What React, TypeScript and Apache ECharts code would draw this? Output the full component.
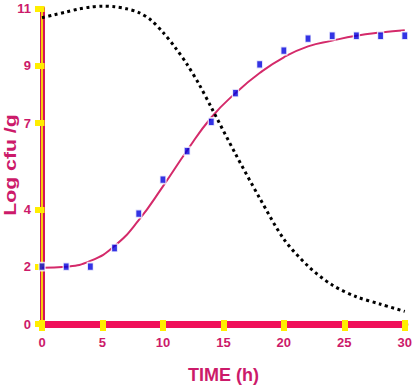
import React, { useEffect, useRef } from "react";
import * as echarts from "echarts";

const timePoints = [0, 2, 4, 6, 8, 10, 12, 14, 16, 18, 20, 22, 24, 26, 28, 30];
const observed = [2.0, 2.0, 2.0, 2.65, 3.85, 5.03, 6.03, 7.05, 8.05, 9.05, 9.53, 9.95, 10.05, 10.05, 10.05, 10.05];
const fittedX = [0, 2, 4, 6, 8, 10, 12, 14, 16, 18, 20, 22, 24, 26, 28, 30];
const fitted = [1.96, 2.0, 2.2, 2.72, 3.62, 4.8, 6.05, 7.2, 8.05, 8.75, 9.3, 9.68, 9.88, 10.05, 10.16, 10.24];
const dottedX = [0, 1, 2, 3, 4, 5, 6, 7, 8, 9, 10, 11, 12, 13, 14, 16, 18, 20, 22, 24, 26, 28, 30];
const dotted = [10.68, 10.78, 10.88, 10.98, 11.05, 11.08, 11.06, 10.99, 10.86, 10.6, 10.17, 9.65, 9.05, 8.35, 7.55, 5.93, 4.39, 2.96, 2.02, 1.36, 0.95, 0.69, 0.44];
const yTicks = [0, 2, 4, 7, 9, 11];
const xTicks = [0, 5, 10, 15, 20, 25, 30];

const MAGENTA = "#cc1a6a";
const YELLOW = "#ffee00";

export default function App() {
  const ref = useRef<HTMLDivElement>(null);
  useEffect(() => {
    if (!ref.current) return;
    const chart = echarts.init(ref.current, null, { renderer: "svg" });
    const labelStyle = { color: MAGENTA, fontWeight: "bold", fontSize: 13, fontFamily: "Liberation Sans, Arial, sans-serif" };
    chart.setOption({
      animation: false,
      backgroundColor: "#ffffff",
      grid: { left: 42, right: 9.5, top: 8.5, bottom: 61.5, containLabel: false },
      xAxis: [
        {
          type: "value", min: 0, max: 30, interval: 5,
          axisLine: { show: true, onZero: false, lineStyle: { color: "#f0105a", width: 7 } },
          axisTick: { show: true, length: 7, customValues: xTicks, lineStyle: { color: YELLOW, width: 6 } },
          axisLabel: { ...labelStyle, margin: 12, customValues: xTicks },
          splitLine: { show: false },
          name: "TIME (h)", nameLocation: "middle", nameGap: 42,
          nameTextStyle: { color: MAGENTA, fontWeight: "bold", fontSize: 18, fontFamily: "Liberation Sans, Arial, sans-serif" },
        },
        {
          type: "value", min: 0, max: 30, interval: 5, position: "bottom",
          axisLine: { show: false },
          axisTick: { show: true, inside: true, length: 4, customValues: xTicks, lineStyle: { color: YELLOW, width: 6 } },
          axisLabel: { show: false },
          splitLine: { show: false },
        },
      ],
      yAxis: [
        {
          type: "value", min: 0, max: 11, interval: 1,
          axisLine: { show: true, onZero: false, lineStyle: { color: "#d4145a", width: 5 } },
          axisTick: { show: true, length: 7, customValues: yTicks, lineStyle: { color: YELLOW, width: 6 } },
          axisLabel: { ...labelStyle, margin: 11, customValues: yTicks },
          splitLine: { show: false },
        },
        {
          type: "value", min: 0, max: 11, interval: 1, position: "left",
          axisLine: { show: true, onZero: false, lineStyle: { color: YELLOW, width: 1.7 } },
          axisTick: { show: true, inside: true, length: 2.5, customValues: yTicks, lineStyle: { color: YELLOW, width: 6 } },
          axisLabel: { show: false },
          splitLine: { show: false },
        },
      ],
      graphic: [
        {
          type: "text",
          x: 10, y: 165,
          rotation: Math.PI / 2,
          scaleX: 1.25,
          style: {
            text: "Log cfu /g",
            fill: MAGENTA,
            font: "bold 17px 'Liberation Sans', Arial, sans-serif",
            align: "center",
            verticalAlign: "middle",
          },
        },
      ],
      series: [
        {
          type: "line",
          data: fittedX.map((x, i) => [x, fitted[i]]),
          smooth: true,
          showSymbol: false,
          lineStyle: { color: "#d42a6a", width: 2 },
          z: 3,
        },
        {
          type: "line",
          data: dottedX.map((x, i) => [x, dotted[i]]),
          smooth: 0.3,
          clip: false,
          showSymbol: false,
          lineStyle: { color: "#000000", width: 3, type: [3, 3.5], cap: "butt" },
          z: 4,
        },
        {
          type: "scatter",
          data: timePoints.map((x, i) => [x, observed[i]]),
          symbol: "rect",
          symbolSize: [6, 8],
          itemStyle: { color: "#0000dd", borderColor: "#ffffff", borderWidth: 1.5 },
          z: 5,
        },
      ],
    });
    return () => chart.dispose();
  }, []);
  return <div ref={ref} style={{ width: 415, height: 389, position: "absolute", left: 0, top: 0 }} />;
}
